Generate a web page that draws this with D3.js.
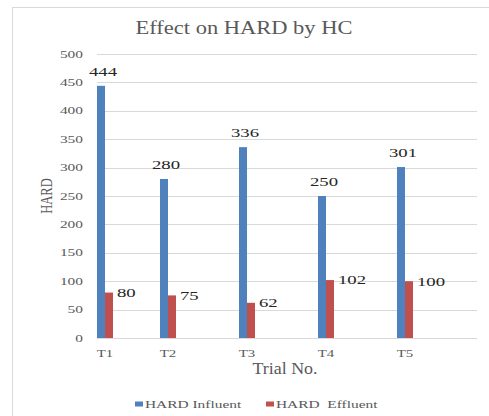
<!DOCTYPE html>
<html>
<head>
<meta charset="utf-8">
<script src="https://cdn.jsdelivr.net/npm/d3@7"></script>
<style>
  body { margin: 0; background: #fff; }
</style>
</head>
<body>
<script>
//chart values
var trials = ["T1", "T2", "T3", "T4", "T5"];
var influent = [444, 280, 336, 250, 301];
var effluent = [80, 75, 62, 102, 100];
var seriesNames = ["HARD Influent", "HARD  Effluent"];
var seriesColors = ["#4F81BD", "#C0504D"];
var yTicks = [0, 50, 100, 150, 200, 250, 300, 350, 400, 450, 500];

//frame
var width = 489,
    height = 416;

var svg = d3.select("body")
    .append("svg")
    .attr("width", width)
    .attr("height", height)
    .style("font-family", "'Liberation Serif', 'Times New Roman', Times, serif");

//the source picture is stretched sideways, so text is widened with a scale
function place(x, y, sx){
    return "translate(" + x + "," + y + ") scale(" + sx + ",1)";
}

//chart border
svg.append("rect")
    .attr("x", 12.5)
    .attr("y", 7.5)
    .attr("width", 500)
    .attr("height", 450)
    .attr("fill", "none")
    .attr("stroke", "#d9d9d9");

var plotLeft = 97,
    plotRight = 477,
    plotTop = 54,
    plotBottom = 338;

var y = d3.scaleLinear()
    .domain([0, 500])
    .range([plotBottom, plotTop]);

//category bands, the first one is pushed in by the plot edge
var x = d3.scaleBand()
    .domain(trials)
    .range([49.5, 444.5]);

var barW = 8;
function center(t){
    return Math.max(x(t) + x.bandwidth() / 2, plotLeft + barW);
}

//gridlines
svg.selectAll(".grid")
    .data(yTicks)
    .enter()
    .append("line")
    .attr("class", "grid")
    .attr("x1", plotLeft)
    .attr("x2", plotRight)
    .attr("y1", function(d){ return Math.round(y(d)) + 0.5; })
    .attr("y2", function(d){ return Math.round(y(d)) + 0.5; })
    .attr("stroke", "#d9d9d9")
    .attr("stroke-width", 1);

//y tick labels
svg.selectAll(".ytick")
    .data(yTicks)
    .enter()
    .append("text")
    .attr("class", "ytick")
    .attr("transform", function(d){ return place(83, y(d), 1.4); })
    .attr("dy", "0.33em")
    .attr("text-anchor", "end")
    .attr("font-size", 11)
    .attr("fill", "#595959")
    .text(function(d){ return d; });

//x tick labels
svg.selectAll(".xtick")
    .data(trials)
    .enter()
    .append("text")
    .attr("class", "xtick")
    .attr("transform", function(d){ return place(center(d), plotBottom + 19, 1.35); })
    .attr("text-anchor", "middle")
    .attr("font-size", 11)
    .attr("fill", "#595959")
    .text(function(d){ return d; });

//influent bars
svg.selectAll(".inf")
    .data(influent)
    .enter()
    .append("rect")
    .attr("class", "inf")
    .attr("x", function(d, i){ return center(trials[i]) - barW; })
    .attr("y", function(d){ return y(d); })
    .attr("width", barW)
    .attr("height", function(d){ return plotBottom - y(d); })
    .attr("fill", seriesColors[0]);

//effluent bars
svg.selectAll(".eff")
    .data(effluent)
    .enter()
    .append("rect")
    .attr("class", "eff")
    .attr("x", function(d, i){ return center(trials[i]); })
    .attr("y", function(d){ return y(d); })
    .attr("width", barW)
    .attr("height", function(d){ return plotBottom - y(d); })
    .attr("fill", seriesColors[1]);

//data labels
svg.selectAll(".infLabel")
    .data(influent)
    .enter()
    .append("text")
    .attr("class", "infLabel")
    .attr("transform", function(d, i){ return place(center(trials[i]) - 2, y(d) - 10, 1.5); })
    .attr("text-anchor", "middle")
    .attr("font-size", 12.5)
    .attr("fill", "#262626")
    .text(function(d){ return d; });

svg.selectAll(".effLabel")
    .data(effluent)
    .enter()
    .append("text")
    .attr("class", "effLabel")
    .attr("transform", function(d, i){ return place(center(trials[i]) + barW + 4, y(d), 1.5); })
    .attr("dy", "0.35em")
    .attr("font-size", 12.5)
    .attr("fill", "#262626")
    .text(function(d){ return d; });

//title
svg.append("text")
    .attr("transform", place(244, 34, 1.25))
    .attr("text-anchor", "middle")
    .attr("font-size", 18)
    .attr("fill", "#595959")
    .text("Effect on HARD by HC");

//axis titles
svg.append("text")
    .attr("transform", "translate(52," + (plotTop + plotBottom) / 2 + ") rotate(-90) scale(1,1.4)")
    .attr("text-anchor", "middle")
    .attr("font-size", 12.5)
    .attr("fill", "#595959")
    .text("HARD");

svg.append("text")
    .attr("transform", place(285, 374, 1.12))
    .attr("text-anchor", "middle")
    .attr("font-size", 16)
    .attr("fill", "#595959")
    .text("Trial No.");

//legend
var legendX = [135, 266];
var legend = svg.selectAll(".legend")
    .data(seriesNames)
    .enter()
    .append("g")
    .attr("class", "legend")
    .attr("transform", function(d, i){ return "translate(" + legendX[i] + ",404)"; });

legend.append("rect")
    .attr("x", 0)
    .attr("y", -2.5)
    .attr("width", 8)
    .attr("height", 5)
    .attr("fill", function(d, i){ return seriesColors[i]; });

legend.append("text")
    .attr("transform", place(10, 0, 1.4))
    .attr("dy", "0.35em")
    .attr("font-size", 11)
    .attr("fill", "#595959")
    .style("white-space", "pre")
    .text(function(d){ return d; });
</script>
</body>
</html>
